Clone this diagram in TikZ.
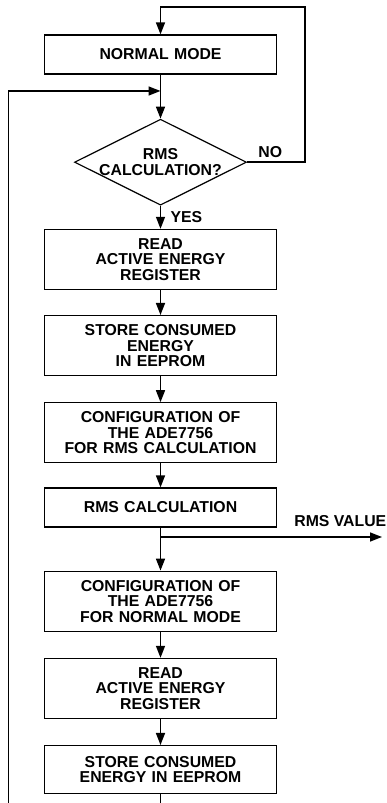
\documentclass[tikz,border=0pt]{standalone}
\usepackage{fontspec}
\setmainfont{Liberation Sans}
\usepackage{tikz}
\usetikzlibrary{arrows.meta,positioning,shapes.geometric}

\begin{document}
\begin{tikzpicture}[x=1pt,y=1pt,->,>={Triangle[length=12pt,width=9pt]},line width=1.5pt,
font=\bfseries\fontsize{15.8}{15.5}\selectfont]
\tikzstyle{block}=[draw,line width=1.2pt,rectangle,minimum width=232pt,text width=220pt,align=center,inner sep=2pt]
\tikzstyle{decision}=[draw,line width=1.2pt,diamond,aspect=2,minimum width=172pt,minimum height=86pt,inner sep=-3pt,align=center]
\useasboundingbox (0,0) rectangle (387,803);

\node[block,minimum height=39pt] (normal) at (160.5,748.5) {NORMAL MODE};
\node[decision]                  (rmsq)    [below=44pt of normal]  {RMS\\CALCULATION?};
\node[block,minimum height=60pt] (read1)   [below=23pt of rmsq]    {READ\\ACTIVE ENERGY\\REGISTER};
\node[block,minimum height=60pt] (store1)  [below=25pt of read1]   {STORE CONSUMED\\ENERGY\\IN EEPROM};
\node[block,minimum height=60pt] (cfgrms)  [below=26pt of store1]  {CONFIGURATION OF\\THE ADE7756\\FOR RMS CALCULATION};
\node[block,minimum height=39pt] (rmscalc) [below=24pt of cfgrms]  {RMS CALCULATION};
\node[block,minimum height=60pt] (cfgnorm) [below=43pt of rmscalc] {CONFIGURATION OF\\THE ADE7756\\FOR NORMAL MODE};
\node[block,minimum height=60pt] (read2)   [below=26pt of cfgnorm] {READ\\ACTIVE ENERGY\\REGISTER};
\node[block,minimum height=48pt] (store2)  [below=26pt of read2]   {STORE CONSUMED\\ENERGY IN EEPROM};

\coordinate (topright) at (305,796);
\coordinate (leftbot) at (8.5,0);
\coordinate (leftturn) at (8.5,712);
\coordinate (rmsout) at (382,266);
\node[anchor=east,inner sep=0pt] (rmsval) at (387,282) {RMS VALUE};

\path (normal) edge (rmsq)
(rmsq) edge node[right,xshift=6pt] {YES} (read1)
(read1) edge (store1)
(store1) edge (cfgrms)
(cfgrms) edge (rmscalc)
(rmscalc) edge (cfgnorm)
(cfgnorm) edge (read2)
(read2) edge (store2);

\draw (rmsq.east) -- node[above,pos=0.4] {NO} (rmsq.east -| topright) -- (topright) -| (normal.north);
\draw (leftbot) -- (leftturn) -- (leftturn -| normal.south);
\draw (rmsout -| rmscalc.south) -- (rmsout);
\draw[-] (store2) -- (store2.south |- leftbot);
\end{tikzpicture}
\end{document}
